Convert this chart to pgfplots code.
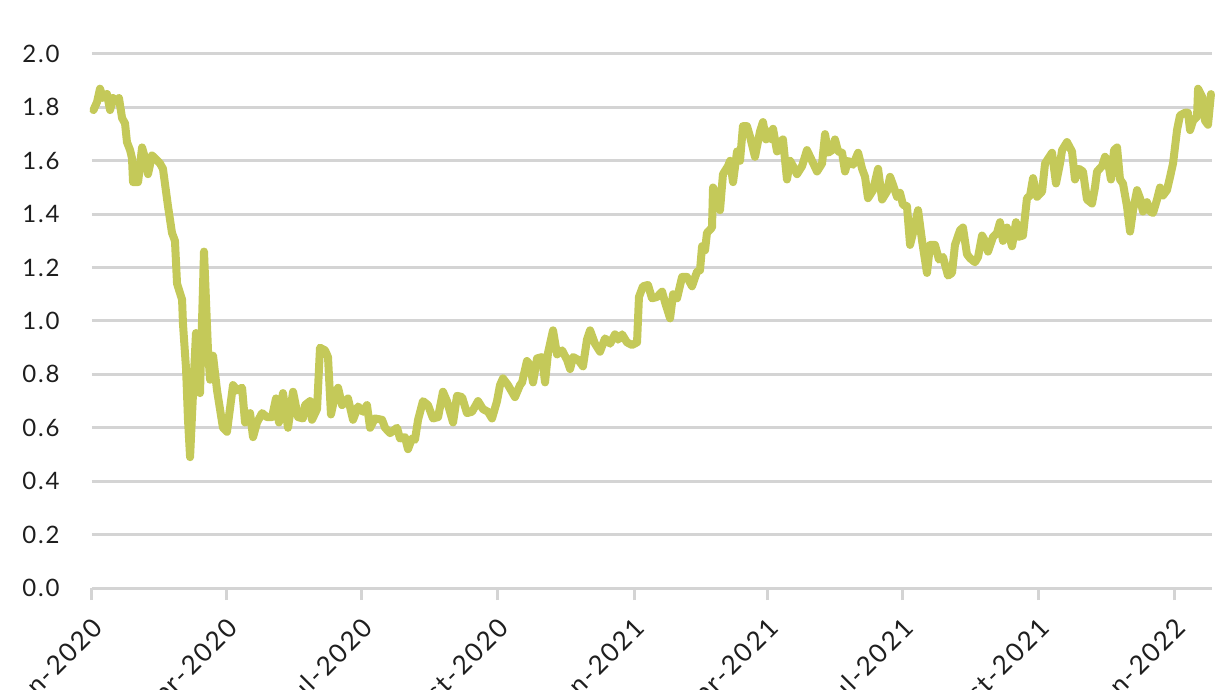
\documentclass[border=0pt]{standalone}
\usepackage{fontspec}
\setmainfont{Lato}
\newfontfamily\tickfont{Lato}[LetterSpace=8]
\usepackage{pgfplots}
\pgfplotsset{compat=1.18}
\definecolor{lineclr}{RGB}{196,201,89}
\definecolor{gridclr}{RGB}{212,212,212}
\definecolor{txtclr}{RGB}{30,30,30}

% day since 1 Jan 2020, value
\pgfplotstableread{
d v
1 1.79
3.4 1.82
5.4 1.87
7.4 1.835
10.1 1.85
12.2 1.79
14.2 1.835
16.9 1.82
18.2 1.835
20.3 1.76
22.3 1.74
23.6 1.67
25.7 1.64
27 1.61
27.7 1.52
31.1 1.52
33.8 1.65
35.8 1.61
37.8 1.55
40.5 1.62
42.5 1.61
45.9 1.59
47.9 1.57
51.3 1.43
54 1.33
56 1.30
57.4 1.14
60.8 1.08
61.4 0.99
63.5 0.82
64.8 0.63
66.2 0.49
68.2 0.73
70.2 0.955
71.6 0.78
72.9 0.73
75.6 1.26
78.3 0.89
79.7 0.78
81.7 0.87
84.4 0.74
86.4 0.67
88.4 0.60
91.1 0.585
95.2 0.76
97.9 0.74
101.3 0.75
103.3 0.62
106.7 0.655
108.7 0.565
111.4 0.62
114.8 0.655
118.1 0.64
121.5 0.64
124.2 0.71
126.2 0.62
128.9 0.73
132.3 0.60
135.7 0.735
139.1 0.64
142.4 0.635
143.8 0.685
147.2 0.70
148.5 0.63
151.9 0.67
153.9 0.90
157.3 0.89
159.3 0.865
161.3 0.65
164.0 0.72
166.1 0.75
168.8 0.685
172.8 0.71
176.2 0.63
179.6 0.68
182.9 0.66
185.6 0.685
187.7 0.60
191.0 0.635
195.8 0.63
197.8 0.60
201.2 0.58
205.9 0.60
207.9 0.56
211.3 0.565
213.3 0.52
216.0 0.56
218.0 0.555
220.1 0.63
223.4 0.70
226.8 0.685
230.2 0.635
233.6 0.64
236.9 0.735
239.6 0.70
243.7 0.62
246.4 0.72
249.8 0.715
253.1 0.655
256.5 0.66
260.6 0.70
263.9 0.67
267.3 0.66
270.0 0.635
273.4 0.70
275.4 0.76
277.4 0.785
280.8 0.76
285.5 0.715
288.9 0.76
290.3 0.77
293.6 0.85
295.7 0.835
297.7 0.77
300.4 0.86
303.8 0.865
305.8 0.77
307.8 0.88
311.2 0.965
313.9 0.875
317.3 0.89
320.6 0.855
322.7 0.82
324.7 0.865
328.1 0.855
331.4 0.83
334.1 0.93
336.2 0.965
339.5 0.915
342.9 0.885
346.3 0.935
349.7 0.915
353.0 0.95
355.1 0.93
357.8 0.95
361.1 0.92
364.5 0.91
367.9 0.92
369.2 1.09
371.9 1.13
375.3 1.135
378.0 1.085
381.4 1.09
384.8 1.11
386.8 1.07
390.2 1.01
392.2 1.10
394.9 1.085
398.3 1.165
401.6 1.165
405.0 1.13
408.4 1.185
410.4 1.19
411.8 1.28
413.8 1.265
415.1 1.33
418.5 1.35
419.2 1.50
421.9 1.465
423.9 1.415
425.9 1.55
429.3 1.58
430.7 1.60
432.7 1.52
435.4 1.635
437.4 1.60
439.4 1.73
442.1 1.73
444.2 1.69
447.5 1.615
450.9 1.71
452.9 1.745
455.0 1.68
457.0 1.71
459.0 1.68
459.7 1.72
462.4 1.635
464.4 1.67
466.4 1.68
469.1 1.53
471.2 1.60
473.2 1.58
475.9 1.55
479.3 1.58
482.6 1.64
486.0 1.60
489.4 1.56
492.8 1.59
494.8 1.70
496.8 1.63
499.5 1.64
501.5 1.68
503.6 1.635
506.3 1.63
508.3 1.56
510.3 1.60
513.7 1.585
517.1 1.63
519.8 1.57
521.8 1.54
523.8 1.46
527.2 1.49
530.6 1.57
533.3 1.455
536.6 1.485
538.7 1.54
540.7 1.51
543.4 1.465
545.4 1.48
547.4 1.435
550.1 1.43
552.2 1.285
554.2 1.33
557.6 1.415
560.3 1.30
563.6 1.18
565.7 1.285
569.0 1.285
571.7 1.23
574.4 1.24
577.8 1.17
580.5 1.18
582.5 1.285
585.9 1.34
587.9 1.35
590.6 1.25
592.7 1.235
596.0 1.22
598.1 1.24
600.8 1.32
602.8 1.30
604.8 1.26
608.2 1.315
610.9 1.33
612.9 1.37
614.9 1.30
617.6 1.35
621.0 1.28
623.7 1.37
625.1 1.315
628.4 1.32
631.1 1.46
633.2 1.47
635.2 1.535
637.9 1.465
641.3 1.485
643.3 1.59
648.0 1.63
650.7 1.515
653.4 1.59
654.8 1.64
658.1 1.67
661.5 1.635
663.5 1.53
666.2 1.57
668.9 1.56
671.6 1.455
675.0 1.44
677.0 1.50
678.4 1.56
681.8 1.58
683.8 1.615
685.8 1.595
687.8 1.53
689.9 1.64
691.9 1.65
693.9 1.53
695.9 1.515
698.6 1.43
700.7 1.335
702.7 1.415
705.4 1.49
707.4 1.46
709.4 1.41
712.1 1.445
714.2 1.41
716.2 1.405
718.9 1.455
720.9 1.50
722.9 1.47
725.6 1.49
727.7 1.54
729.7 1.59
732.4 1.715
734.4 1.77
737.8 1.78
739.8 1.78
741.2 1.715
743.2 1.75
745.9 1.765
746.6 1.87
749.3 1.84
749.9 1.82
751.3 1.75
753.3 1.735
755.3 1.85
}\ratio

\begin{document}
\begin{tikzpicture}
\begin{axis}[
  at={(0,0)}, anchor=south west,
  scale only axis, width=560pt, height=267pt,
  xmin=0, xmax=756, ymin=0, ymax=2,
  axis x line*=bottom, axis y line*=left,
  x axis line style={draw=gridclr, line width=1.5pt, -},
  y axis line style={draw=none},
  xtick={0,91,182,274,366,456,547,639,731},
  xticklabels={Jan-2020,Apr-2020,Jul-2020,Oct-2020,Jan-2021,Apr-2021,Jul-2021,Oct-2021,Jan-2022},
  ytick={0,0.2,...,2.01},
  ymajorgrids,
  grid style={draw=gridclr, line width=1.5pt},
  tick align=outside,
  major tick length=6pt,
  xtick style={draw=gridclr, line width=1.5pt},
  ytick style={draw=none},
  xticklabel style={font=\tickfont\fontsize{13}{15}\selectfont, text=txtclr,
    xshift=-0.5pt, yshift=-8pt, rotate=45, anchor=north east, inner sep=0pt},
  yticklabel style={font=\tickfont\fontsize{12}{14}\selectfont, text=txtclr,
    anchor=east, inner sep=0pt, xshift=-10pt,
    /pgf/number format/.cd, fixed, fixed zerofill, precision=1, assume math mode=true},
  clip=false,
]
\addplot[lineclr, line width=4pt, line join=round, line cap=round] table[x=d, y=v] {\ratio};
\end{axis}
\pgfresetboundingbox
\useasboundingbox (-46pt,-51pt) rectangle (567pt,294pt);
\end{tikzpicture}
\end{document}
